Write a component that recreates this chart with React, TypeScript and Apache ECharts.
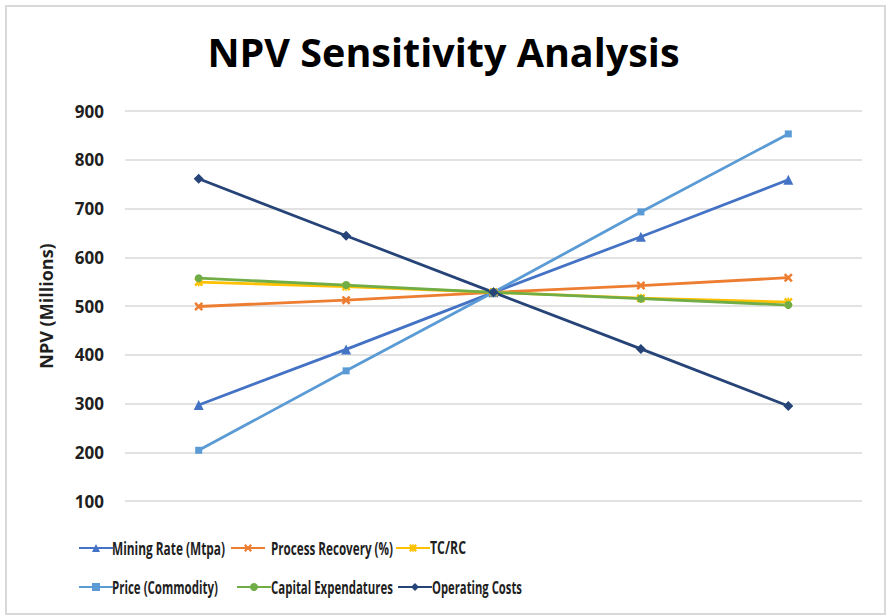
import React, { useEffect, useRef } from "react";
import * as echarts from "echarts";

const categories = ["-20%", "-10%", "Base", "+10%", "+20%"];
const miningRate = [297, 411, 528, 642, 759];
const processRecovery = [499, 512, 528, 542, 558];
const tcrc = [549, 540, 528, 516, 508];
const price = [204, 367, 528, 693, 853];
const capex = [557, 543, 528, 515, 502];
const operatingCosts = [761, 644, 528, 412, 295];
const yTicks = { min: 100, max: 900, interval: 100 };

const FONT = "'Open Sans', 'Noto Sans', sans-serif";
const TEXT = "#1f1f1f";

const X_PATH = "path://M0,2 L2,0 L5,3 L8,0 L10,2 L7,5 L10,8 L8,10 L5,7 L2,10 L0,8 L3,5 Z";
const STAR_PATH = "path://M0,2 L2,0 L5,3 L8,0 L10,2 L7,5 L10,8 L8,10 L5,7 L2,10 L0,8 L3,5 Z M4.2,0 L5.8,0 L5.8,10 L4.2,10 Z";

const seriesDefs = [
  { name: "Mining Rate (Mtpa)", data: miningRate, color: "#4472C4", symbol: "triangle", size: 10 },
  { name: "Process Recovery (%)", data: processRecovery, color: "#ED7D31", symbol: X_PATH, size: 9 },
  { name: "TC/RC", data: tcrc, color: "#FFC000", symbol: STAR_PATH, size: 9 },
  { name: "Price (Commodity)", data: price, color: "#5B9BD5", symbol: "rect", size: 7 },
  { name: "Capital Expendatures", data: capex, color: "#70AD47", symbol: "circle", size: 8 },
  { name: "Operating Costs", data: operatingCosts, color: "#264478", symbol: "diamond", size: 10 },
];

// legend layout: icon start x, row centre y, label start x, label width
const legendLayout = [
  { iconX: 78, cy: 548, textX: 112, textW: 113 },
  { iconX: 230, cy: 548, textX: 271, textW: 122 },
  { iconX: 395, cy: 548, textX: 430, textW: 36 },
  { iconX: 78, cy: 587, textX: 112, textW: 106 },
  { iconX: 236, cy: 587, textX: 271, textW: 122 },
  { iconX: 397, cy: 587, textX: 432, textW: 90 },
];
const LEGEND_FONT_SIZE = 18;

function measure(text: string, font: string): number {
  const c = document.createElement("canvas");
  const ctx = c.getContext("2d");
  if (!ctx) return text.length * 8;
  ctx.font = font;
  return ctx.measureText(text).width;
}

export default function App() {
  const ref = useRef<HTMLDivElement>(null);
  useEffect(() => {
    if (!ref.current) return;
    const chart = echarts.init(ref.current, null, { renderer: "svg" });
    const legendFont = `bold ${LEGEND_FONT_SIZE}px 'Open Sans'`;
    const legendTexts = seriesDefs.map((s, i) => {
      const L = legendLayout[i];
      const w = measure(s.name, legendFont);
      return {
        type: "text",
        x: L.textX,
        y: L.cy,
        scaleX: w > 0 ? L.textW / w : 1,
        silent: true,
        style: {
          text: s.name,
          fontFamily: FONT,
          fontSize: LEGEND_FONT_SIZE,
          fontWeight: "bold",
          fill: TEXT,
          align: "left",
          verticalAlign: "middle",
        },
      };
    });
    chart.setOption({
      animation: false,
      backgroundColor: "#ffffff",
      title: {
        text: "NPV Sensitivity Analysis",
        left: "center",
        top: 27,
        textStyle: { fontFamily: FONT, fontSize: 39.5, fontWeight: "bold", color: "#000" },
      },
      graphic: [
        {
          type: "rect",
          shape: { x: 6, y: 6, width: 879, height: 608 },
          style: { fill: "none", stroke: "#d9d9d9", lineWidth: 2 },
          silent: true,
        },
        ...legendTexts,
      ],
      legend: seriesDefs.map((s, i) => ({
        data: [s.name],
        left: legendLayout[i].iconX,
        top: legendLayout[i].cy - 5,
        padding: 0,
        itemWidth: 34,
        itemHeight: 10,
        formatter: () => "",
        textStyle: { fontSize: 10, padding: 0 },
      })),
      grid: { left: 125, right: 25, top: 111, bottom: 115 },
      xAxis: {
        type: "category",
        data: categories,
        boundaryGap: true,
        axisLine: { show: false },
        axisTick: { show: false },
        axisLabel: { show: false },
      },
      yAxis: {
        type: "value",
        min: yTicks.min,
        max: yTicks.max,
        interval: yTicks.interval,
        name: "NPV (Millions)",
        nameLocation: "middle",
        nameGap: 70,
        nameTextStyle: { fontFamily: FONT, fontSize: 18, fontWeight: "bold", color: TEXT },
        axisLine: { show: false },
        axisTick: { show: false },
        axisLabel: { fontFamily: FONT, fontSize: 17, fontWeight: "bold", color: TEXT, margin: 21 },
        splitLine: { lineStyle: { color: "#d9d9d9", width: 1.5 } },
      },
      series: seriesDefs.map((s) => ({
        name: s.name,
        type: "line",
        data: s.data,
        symbol: s.symbol,
        symbolSize: s.size,
        showSymbol: true,
        lineStyle: { color: s.color, width: 2.8 },
        itemStyle: { color: s.color },
      })),
    });
    return () => chart.dispose();
  }, []);
  return (
    <div
      ref={ref}
      style={{ position: "absolute", left: 0, top: 0, width: 887, height: 616 }}
    />
  );
}
